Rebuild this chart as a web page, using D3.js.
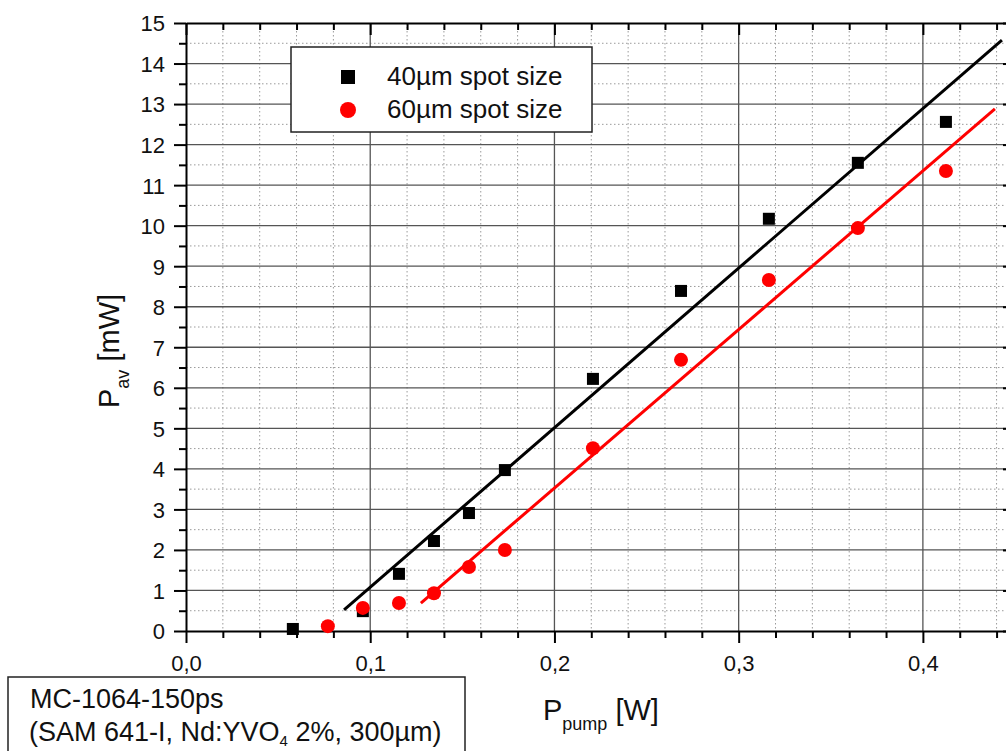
<!DOCTYPE html>
<html>
<head>
<meta charset="utf-8">
<script src="https://cdn.jsdelivr.net/npm/d3@7"></script>
<style>
  body { margin: 0; background: #fff; }
  svg { display: block; font-family: "Liberation Sans", Arial, sans-serif; }
  .axis path, .axis line { stroke: #000; }
  .axis text { font-size: 22px; fill: #111; font-family: "Liberation Sans", Arial, sans-serif; }
</style>
</head>
<body>
<svg id="chart" width="1006" height="751"></svg>
<script>
// pump power [W] - measured points
const pump40 = [0.058, 0.096, 0.1156, 0.1346, 0.1536, 0.1731, 0.2209, 0.2687, 0.3164, 0.3647, 0.4125];
const pav40  = [0.05, 0.49, 1.41, 2.22, 2.91, 3.97, 6.22, 8.39, 10.17, 11.55, 12.56];

const pump60 = [0.077, 0.096, 0.1156, 0.1346, 0.1536, 0.1731, 0.2209, 0.2687, 0.3164, 0.3647, 0.4125];
const pav60  = [0.12, 0.57, 0.69, 0.93, 1.58, 2.0, 4.51, 6.69, 8.66, 9.94, 11.35];

// linear fit lines (end points)
const fit40X = [0.0858, 0.4429];
const fit40Y = [0.52, 14.58];
const fit60X = [0.1275, 0.4391];
const fit60Y = [0.69, 12.88];

const xMajor = [0.0, 0.1, 0.2, 0.3, 0.4];
const yMajor = [0, 1, 2, 3, 4, 5, 6, 7, 8, 9, 10, 11, 12, 13, 14, 15];

const legendLabels = ["40µm spot size", "60µm spot size"];
const colors = ["#000000", "#ff0000"];

const svg = d3.select("#chart");

// plot frame
const pL = 186, pR = 1015, pT = 23, pB = 631;

const x = d3.scaleLinear().domain([0, 0.45]).range([pL, pR]);
const y = d3.scaleLinear().domain([0, 15]).range([pB, pT]);

const xMinor = d3.range(0, 0.4501, 0.02).map(v => +v.toFixed(2)).filter(v => Math.round(v * 100) % 10 !== 0);
const yMinor = d3.range(0.5, 15, 1);

// minor grid (dotted)
const grid = svg.append("g");
grid.selectAll(".gxm").data(xMinor).join("line")
  .attr("x1", d => x(d)).attr("x2", d => x(d))
  .attr("y1", pT).attr("y2", pB)
  .attr("stroke", "#9a9a9a").attr("stroke-width", 1)
  .attr("stroke-dasharray", "1.5,2.5");
grid.selectAll(".gym").data(yMinor).join("line")
  .attr("x1", pL).attr("x2", pR)
  .attr("y1", d => y(d)).attr("y2", d => y(d))
  .attr("stroke", "#9a9a9a").attr("stroke-width", 1)
  .attr("stroke-dasharray", "1.5,2.5");

// major grid (solid)
grid.selectAll(".gx").data(xMajor.filter(v => v > 0)).join("line")
  .attr("x1", d => x(d)).attr("x2", d => x(d))
  .attr("y1", pT).attr("y2", pB)
  .attr("stroke", "#555").attr("stroke-width", 1.3);
grid.selectAll(".gy").data(yMajor.filter(v => v > 0 && v < 15)).join("line")
  .attr("x1", pL).attr("x2", pR)
  .attr("y1", d => y(d)).attr("y2", d => y(d))
  .attr("stroke", "#555").attr("stroke-width", 1.3);

const fmtX = d => d3.format(".1f")(d).replace(".", ",");

// bottom axis
svg.append("g").attr("class", "axis")
  .attr("transform", `translate(0,${pB})`)
  .call(d3.axisBottom(x).tickValues(xMajor).tickSize(12).tickSizeOuter(0).tickPadding(12).tickFormat(fmtX))
  .call(g => g.select(".domain").attr("stroke-width", 2))
  .call(g => g.selectAll("line").attr("stroke-width", 2))
  .call(g => g.selectAll("text").attr("font-size", 23));
svg.append("g").attr("class", "axis")
  .attr("transform", `translate(0,${pB})`)
  .call(d3.axisBottom(x).tickValues(xMinor).tickSize(7).tickFormat(""))
  .call(g => g.select(".domain").remove())
  .call(g => g.selectAll("line").attr("stroke-width", 2));

// top axis (ticks inward)
svg.append("g").attr("class", "axis")
  .attr("transform", `translate(0,${pT})`)
  .call(d3.axisTop(x).tickValues(xMajor).tickSize(-12).tickSizeOuter(0).tickFormat(""))
  .call(g => g.select(".domain").attr("stroke-width", 2))
  .call(g => g.selectAll("line").attr("stroke-width", 2));
svg.append("g").attr("class", "axis")
  .attr("transform", `translate(0,${pT})`)
  .call(d3.axisTop(x).tickValues(xMinor).tickSize(-7).tickFormat(""))
  .call(g => g.select(".domain").remove())
  .call(g => g.selectAll("line").attr("stroke-width", 2));

// left axis
svg.append("g").attr("class", "axis")
  .attr("transform", `translate(${pL},0)`)
  .call(d3.axisLeft(y).tickValues(yMajor).tickSize(12).tickSizeOuter(0).tickPadding(9).tickFormat(d3.format("d")))
  .call(g => g.select(".domain").attr("stroke-width", 2))
  .call(g => g.selectAll("line").attr("stroke-width", 2))
  .call(g => g.selectAll("text").attr("dy", "0.36em"));
svg.append("g").attr("class", "axis")
  .attr("transform", `translate(${pL},0)`)
  .call(d3.axisLeft(y).tickValues(yMinor).tickSize(7).tickFormat(""))
  .call(g => g.select(".domain").remove())
  .call(g => g.selectAll("line").attr("stroke-width", 2));

// right axis (ticks inward)
svg.append("g").attr("class", "axis")
  .attr("transform", `translate(${pR},0)`)
  .call(d3.axisRight(y).tickValues(yMajor).tickSize(-12).tickSizeOuter(0).tickFormat(""))
  .call(g => g.select(".domain").attr("stroke-width", 2))
  .call(g => g.selectAll("line").attr("stroke-width", 2));
svg.append("g").attr("class", "axis")
  .attr("transform", `translate(${pR},0)`)
  .call(d3.axisRight(y).tickValues(yMinor).tickSize(-7).tickFormat(""))
  .call(g => g.select(".domain").remove())
  .call(g => g.selectAll("line").attr("stroke-width", 2));

// fit lines
const line = d3.line().x(d => x(d[0])).y(d => y(d[1]));
svg.append("path").datum(d3.zip(fit40X, fit40Y))
  .attr("d", line).attr("fill", "none").attr("stroke", colors[0]).attr("stroke-width", 3);
svg.append("path").datum(d3.zip(fit60X, fit60Y))
  .attr("d", line).attr("fill", "none").attr("stroke", colors[1]).attr("stroke-width", 3);

// data points
const sq = 12;
svg.append("g").selectAll("rect").data(d3.zip(pump40, pav40)).join("rect")
  .attr("x", d => x(d[0]) - sq / 2).attr("y", d => y(d[1]) - sq / 2)
  .attr("width", sq).attr("height", sq).attr("fill", colors[0]);
svg.append("g").selectAll("circle").data(d3.zip(pump60, pav60)).join("circle")
  .attr("cx", d => x(d[0])).attr("cy", d => y(d[1])).attr("r", 7)
  .attr("fill", colors[1]);

// legend
const lg = svg.append("g");
lg.append("rect").attr("x", 291).attr("y", 47).attr("width", 301).attr("height", 85)
  .attr("fill", "#fff").attr("stroke", "#222").attr("stroke-width", 1.5);
lg.append("rect").attr("x", 341).attr("y", 70).attr("width", 14).attr("height", 14).attr("fill", colors[0]);
lg.append("circle").attr("cx", 348).attr("cy", 110).attr("r", 8).attr("fill", colors[1]);
lg.selectAll("text").data(legendLabels).join("text")
  .attr("x", 387).attr("y", (d, i) => 85 + i * 33)
  .attr("font-size", 26).attr("fill", "#111")
  .text(d => d);

// axis titles
const xt = svg.append("text").attr("x", 543).attr("y", 720).attr("font-size", 29).attr("fill", "#111");
xt.append("tspan").text("P");
xt.append("tspan").attr("font-size", 18).attr("dy", 10).text("pump");
xt.append("tspan").attr("dy", -10).text(" [W]");

const yt = svg.append("text").attr("transform", "translate(119,408) rotate(-90)")
  .attr("font-size", 29).attr("fill", "#111");
yt.append("tspan").text("P");
yt.append("tspan").attr("font-size", 18).attr("dy", 10).text("av");
yt.append("tspan").attr("dy", -10).text(" [mW]");

// sample info box
svg.append("rect").attr("x", 8).attr("y", 677).attr("width", 457).attr("height", 100)
  .attr("fill", "#fff").attr("stroke", "#222").attr("stroke-width", 1.5);
svg.append("text").attr("x", 30).attr("y", 708).attr("font-size", 27).attr("fill", "#111")
  .text("MC-1064-150ps");
const t2 = svg.append("text").attr("x", 29).attr("y", 741).attr("font-size", 27).attr("fill", "#111");
t2.append("tspan").text("(SAM 641-I, Nd:YVO");
t2.append("tspan").attr("font-size", 15).attr("dy", 5).text("4");
t2.append("tspan").attr("dy", -5).text(" 2%, 300µm)");
</script>
</body>
</html>
